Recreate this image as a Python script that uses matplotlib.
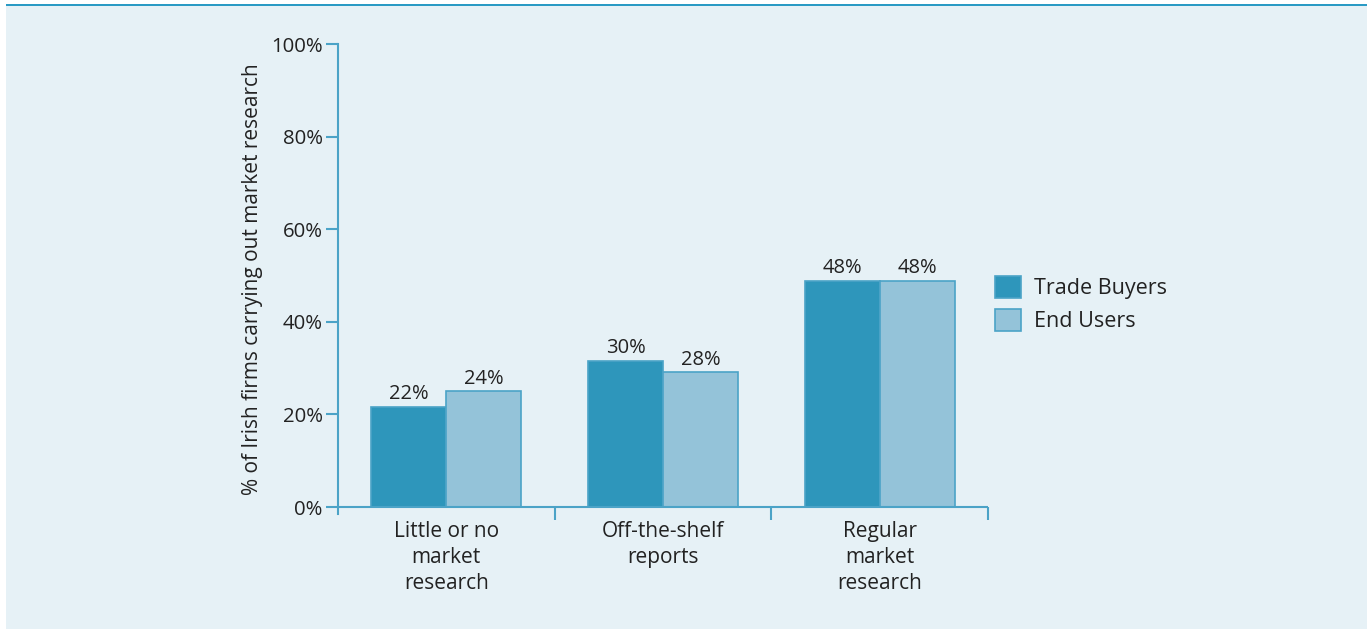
import matplotlib.pyplot as plt
from matplotlib.patches import Rectangle
import numpy as np

plt.rcParams["font.family"] = ["Open Sans", "DejaVu Sans"]

categories = ["Little or no\nmarket\nresearch", "Off-the-shelf\nreports", "Regular\nmarket\nresearch"]
trade_buyers = [21.6, 31.5, 48.8]
end_users = [25.0, 29.1, 48.8]
trade_labels = ["22%", "30%", "48%"]
end_labels = ["24%", "28%", "48%"]
y_ticks = [0, 20, 40, 60, 80, 100]

BG = "#e6f1f6"
DARK = "#2e96bb"
LIGHT = "#94c3d9"
EDGE = "#4ba3c7"
TEXT = "#222222"

fig = plt.figure(figsize=(13.72, 6.29), dpi=100)
fig.patch.set_facecolor("white")
# light panel behind the chart and the thin rule on top
fig.patches.append(Rectangle((6 / 1372, 0), 1361 / 1372, 1 - 5 / 629,
                             transform=fig.transFigure, facecolor=BG, edgecolor="none", zorder=-2))
fig.patches.append(Rectangle((6 / 1372, 1 - 6 / 629), 1361 / 1372, 2 / 629,
                             transform=fig.transFigure, facecolor="#2a9ac4", edgecolor="none", zorder=-1))

ax = fig.add_axes([338 / 1372, 115 / 629, 650 / 1372, 470 / 629])
ax.set_zorder(5)
ax.set_facecolor("none")

x = np.arange(len(categories)) + 0.5
w = 0.346
b1 = ax.bar(x - w / 2, trade_buyers, w, color=DARK, edgecolor=EDGE, linewidth=1.2, label="Trade Buyers")
b2 = ax.bar(x + w / 2, end_users, w, color=LIGHT, edgecolor=EDGE, linewidth=1.2, label="End Users")

for bars, labels in ((b1, trade_labels), (b2, end_labels)):
    for rect, lab in zip(bars, labels):
        ax.text(rect.get_x() + rect.get_width() / 2, rect.get_height() + 0.6, lab,
                ha="center", va="bottom", fontsize=14.5, color=TEXT)

ax.set_xlim(0, 3)
ax.set_ylim(-1.5, 100)
ax.set_yticks(y_ticks)
ax.set_yticklabels([f"{t}%" for t in y_ticks])
ax.tick_params(axis="y", length=9, width=1.5, color=EDGE, labelsize=14.7, labelcolor=TEXT, pad=2)
ax.set_xticks(x)
ax.set_xticklabels(categories)
ax.tick_params(axis="x", length=0, labelsize=15, labelcolor=TEXT, pad=5)
for lab in ax.get_xticklabels():
    lab.set_linespacing(1.32)
    lab.set_va("top")

for s in ["top", "right", "bottom"]:
    ax.spines[s].set_visible(False)
ax.spines["left"].set_color(EDGE)
ax.spines["left"].set_linewidth(1.5)

ax.axhline(0, color=EDGE, linewidth=1.5, zorder=3)
ax.vlines([1, 2, 3], -2.8, 0, color=EDGE, linewidth=1.5, clip_on=False)

ax.set_ylabel("% of Irish firms carrying out market research", fontsize=15, color=TEXT, labelpad=6)

leg = ax.legend(loc="upper left", bbox_to_anchor=(1.0108, 0.507), frameon=False, fontsize=15.5,
                handlelength=1.22, handleheight=1.22, handletextpad=0.6, labelspacing=0.45,
                borderaxespad=0, borderpad=0)
for t in leg.get_texts():
    t.set_color(TEXT)

fig.savefig("out.png", dpi=100, facecolor=fig.get_facecolor())
